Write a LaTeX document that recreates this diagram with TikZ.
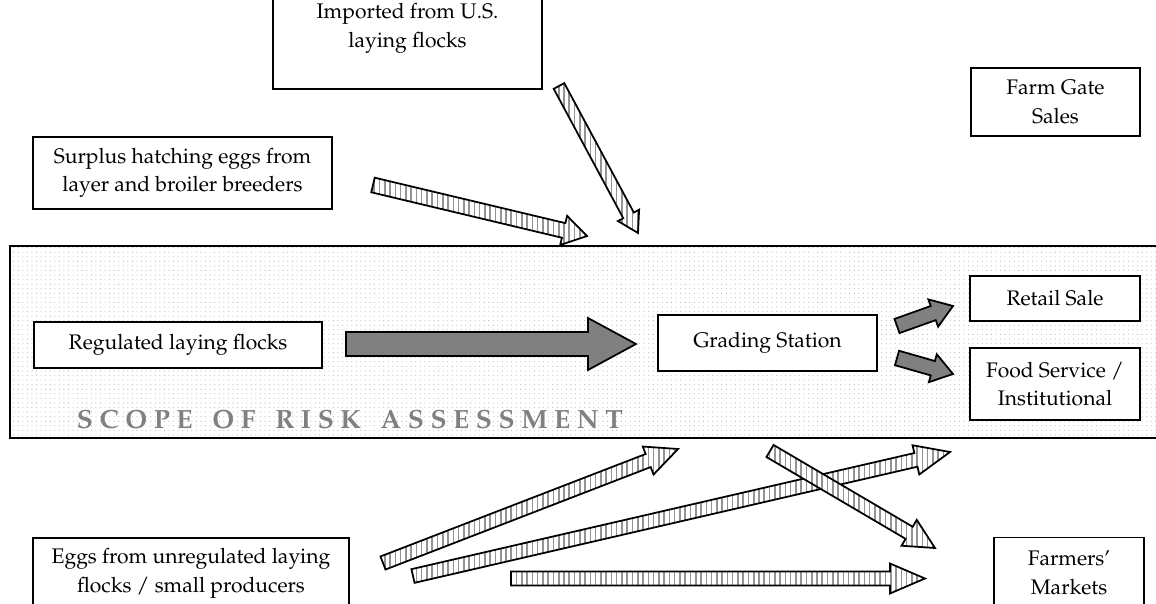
\documentclass[tikz,border=0pt]{standalone}
\usepackage[T1]{fontenc}
\renewcommand{\rmdefault}{ppl}
\usepackage{tikz}
\usetikzlibrary{calc, patterns.meta}
\tikzset{
	box/.style={
		draw,
		fill=white,
		line width=0.8pt,
		inner sep=0pt,
		outer sep=0pt,
		align=center,
		font=\fontsize{12}{16.2}\selectfont
	},
	band/.style={
		draw,
		line width=1.4pt,
		preaction={fill=white},
		pattern={Dots[distance=2.6pt, radius=0.32pt]},
		pattern color=gray!55
	},
	hatcharrow/.style={
		draw,
		line width=1pt,
		line join=miter,
		preaction={fill=white},
		pattern={Lines[angle=90, distance=3pt, line width=0.9pt]},
		pattern color=gray!85
	},
	solidarrow/.style={draw, line width=1pt, fill=black!50}
}
% block arrow: style, tail, tip, shaft half width, head half width, head length
\newcommand{\blockarrow}[6]{%
	\coordinate (ahb) at ($(#3)!#6!(#2)$);
	\path[#1] ($(#2)!#4!90:(#3)$) -- ($(ahb)!#4!-90:(#2)$) -- ($(ahb)!#5!-90:(#2)$)
		-- (#3) -- ($(ahb)!#5!90:(#2)$) -- ($(ahb)!#4!90:(#2)$) -- ($(#2)!#4!-90:(#3)$) -- cycle;
}
\newcommand{\ls}{\hspace{0.25em}}
\newcommand{\lw}{\hspace{0.75em}}

\begin{document}
\begin{tikzpicture}[x=0.02cm, y=-0.02cm]
	\useasboundingbox (0,0) rectangle (1156,604);
	
	% scope band
	\draw[band] (10,246) rectangle (1180,438);
	\node(scope) at (350,419) [text=black!50, font=\fontsize{15}{17}\bfseries] {S\ls C\ls O\ls P\ls E\lw O\ls F\lw R\ls I\ls S\ls K\lw A\ls S\ls S\ls E\ls S\ls S\ls M\ls E\ls N\ls T};
	
	\node(imported) at (407.5,28.5) [box, minimum width=5.38cm, minimum height=2.42cm] {Imported from U.S.\\laying flocks};
	\node(surplus) at (182.5,173) [box, minimum width=5.98cm, minimum height=1.44cm] {Surplus hatching eggs from\\layer and broiler breeders};
	\node(farmgate) at (1055.5,102) [box, minimum width=3.38cm, minimum height=1.36cm] {Farm Gate\\Sales};
	\node(regulated) at (178,345) [box, minimum width=5.76cm, minimum height=0.92cm] {Regulated laying flocks};
	\node(grading) at (767.5,343) [box, minimum width=4.38cm, minimum height=1.12cm] {Grading Station};
	\node(retail) at (1055,298.5) [box, minimum width=3.4cm, minimum height=0.9cm] {Retail Sale};
	\node(foodserv) at (1055,384) [box, minimum width=3.4cm, minimum height=1.44cm] {Food Service /\\Institutional};
	\node(eggs) at (191,573.5) [box, minimum width=6.32cm, minimum height=1.42cm] {Eggs from unregulated laying\\flocks / small producers};
	\node(farmers) at (1069,573) [box, minimum width=3.0cm, minimum height=1.42cm] {Farmers'\\Markets};
	
	% arrow ends
	\coordinate (reg-out) at (346,344);
	\coordinate (grad-in) at (636,344);
	\coordinate (grad-up) at (897,326);
	\coordinate (retail-in) at (953,306);
	\coordinate (grad-dn) at (897,358);
	\coordinate (food-in) at (953,374);
	\coordinate (sur-out) at (373,185);
	\coordinate (sur-in) at (587,236);
	\coordinate (imp-out) at (559,86);
	\coordinate (imp-in) at (638,233);
	\coordinate (egg-a) at (383,563);
	\coordinate (egg-a-in) at (678,449);
	\coordinate (egg-b) at (413,576);
	\coordinate (egg-b-in) at (950,452);
	\coordinate (egg-c) at (511,578.5);
	\coordinate (egg-c-in) at (925,578.5);
	\coordinate (grad-out) at (770,451);
	\coordinate (market-in) at (935,548);
	
	\blockarrow{solidarrow}{reg-out}{grad-in}{0.24cm}{0.52cm}{0.96cm}
	\blockarrow{solidarrow}{grad-up}{retail-in}{0.15cm}{0.29cm}{0.42cm}
	\blockarrow{solidarrow}{grad-dn}{food-in}{0.15cm}{0.29cm}{0.42cm}
	
	\blockarrow{hatcharrow}{sur-out}{sur-in}{0.15cm}{0.3cm}{0.48cm}
	\blockarrow{hatcharrow}{imp-out}{imp-in}{0.12cm}{0.24cm}{0.4cm}
	\blockarrow{hatcharrow}{egg-a}{egg-a-in}{0.14cm}{0.3cm}{0.64cm}
	\blockarrow{hatcharrow}{egg-b}{egg-b-in}{0.14cm}{0.3cm}{0.7cm}
	\blockarrow{hatcharrow}{grad-out}{market-in}{0.14cm}{0.3cm}{0.6cm}
	\blockarrow{hatcharrow}{egg-c}{egg-c-in}{0.14cm}{0.3cm}{0.7cm}
\end{tikzpicture}
\end{document}
